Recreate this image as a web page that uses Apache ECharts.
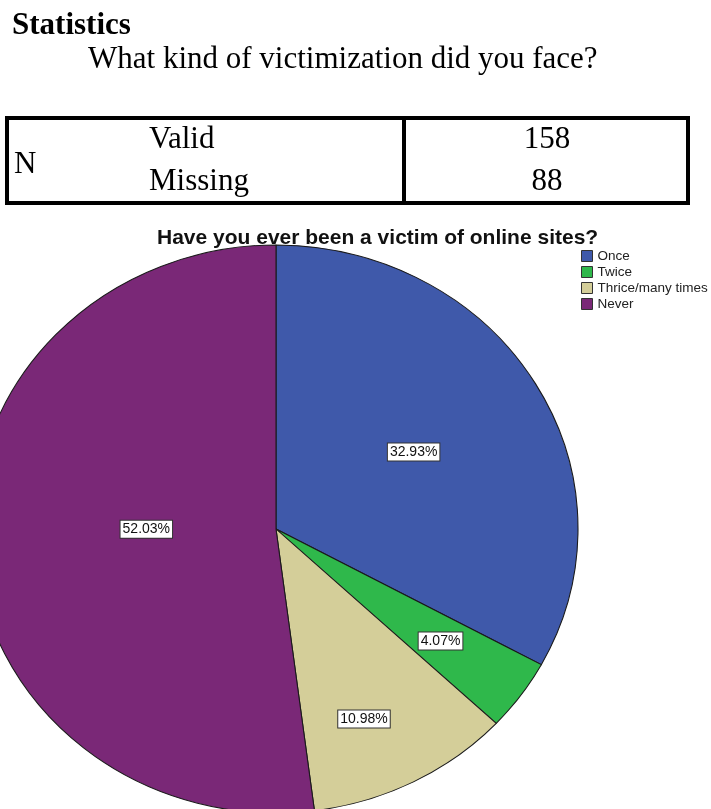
<!DOCTYPE html>
<html><head><meta charset="utf-8">
<script src="https://cdn.jsdelivr.net/npm/echarts@6/dist/echarts.min.js"></script>
<style>
html,body{margin:0;padding:0;background:#fff;}
#wrap{position:relative;width:711px;height:809px;overflow:hidden;background:#fff;}
#pie{position:absolute;left:0;top:0;width:711px;height:809px;transform-origin:276px 529px;transform:scaleX(1.0634);}
#main{position:absolute;left:0;top:0;width:711px;height:809px;}
</style></head><body>
<div id="wrap"><div id="pie"></div><div id="main"></div></div>
<script>
// ---- data ----
const categories = ['Once', 'Twice', 'Thrice/many times', 'Never'];
const counts = [81, 10, 27, 128];
const statRowLabels = ['Valid', 'Missing'];
const statRowValues = [158, 88];
const statGroup = 'N';
const heading = 'Statistics';
const question = 'What kind of victimization did you face?';
const chartTitle = 'Have you ever been a victim of online sites?';

// ---- styles ----
const sliceColors = ['#3F59AA', '#2FB84B', '#D4CE99', '#7A2877'];
const labelDx = [13, 47, 22, 15];
const labelDy = [-3, 27, 61, -9];

const total = counts.reduce((a, b) => a + b, 0);
const pieData = categories.map((c, i) => ({ name: c, value: counts[i], itemStyle: { color: sliceColors[i] } }));

// Pie drawn in SVG, stretched horizontally into the elliptical SPSS shape
const pieChart = echarts.init(document.getElementById('pie'), null, { renderer: 'svg' });
pieChart.setOption({
  animation: false,
  series: [{
    type: 'pie',
    center: [276, 529],
    radius: 284,
    startAngle: 90,
    clockwise: true,
    silent: true,
    label: { show: false },
    labelLine: { show: false },
    itemStyle: { borderColor: '#1a1a1a', borderWidth: 1 },
    data: pieData
  }]
});

const serif = '"Liberation Serif", "Times New Roman", serif';
const sans = '"Liberation Sans", Arial, sans-serif';

const main = echarts.init(document.getElementById('main'));
main.setOption({
  animation: false,
  backgroundColor: 'transparent',
  title: {
    text: chartTitle,
    left: 157, top: 228, padding: 0,
    textStyle: { fontFamily: sans, fontSize: 21, fontWeight: 'bold', color: '#111' }
  },
  legend: {
    orient: 'vertical',
    left: 581, top: 249, padding: 0,
    itemWidth: 11, itemHeight: 11, itemGap: 2,
    icon: 'rect',
    selectedMode: false,
    textStyle: { fontFamily: sans, fontSize: 13.5, color: '#222', lineHeight: 14 },
    data: categories.map((c, i) => ({ name: c, itemStyle: { color: sliceColors[i], borderColor: '#333', borderWidth: 1 } }))
  },
  graphic: [
    { type: 'text', left: 12, top: 10, style: { text: heading, font: 'bold 31px ' + serif, fill: '#000' } },
    { type: 'text', left: 88, top: 44, style: { text: question, font: '31px ' + serif, fill: '#000' } },
    { type: 'rect', shape: { x: 7, y: 118, width: 681, height: 85 }, style: { fill: 'none', stroke: '#000', lineWidth: 4 } },
    { type: 'line', shape: { x1: 404, y1: 118, x2: 404, y2: 203 }, style: { stroke: '#000', lineWidth: 4 } },
    { type: 'text', x: 14, y: 165, style: { text: statGroup, font: '31px ' + serif, fill: '#000', verticalAlign: 'middle' } },
    { type: 'text', x: 149, y: 140, style: { text: statRowLabels[0], font: '31px ' + serif, fill: '#000', verticalAlign: 'middle' } },
    { type: 'text', x: 149, y: 182, style: { text: statRowLabels[1], font: '31px ' + serif, fill: '#000', verticalAlign: 'middle' } },
    { type: 'text', x: 547, y: 140, style: { text: String(statRowValues[0]), font: '31px ' + serif, fill: '#000', align: 'center', verticalAlign: 'middle' } },
    { type: 'text', x: 547, y: 182, style: { text: String(statRowValues[1]), font: '31px ' + serif, fill: '#000', align: 'center', verticalAlign: 'middle' } }
  ],
  series: [{
    // transparent twin of the pie: carries the percentage labels and legend names
    type: 'pie',
    center: [276, 529],
    radius: 284,
    startAngle: 90,
    clockwise: true,
    silent: true,
    itemStyle: { color: 'rgba(0,0,0,0)', borderWidth: 0 },
    labelLine: { show: false },
    label: {
      show: true,
      position: 'inside',
      formatter: p => (p.value / total * 100).toFixed(2) + '%',
      fontFamily: sans, fontSize: 14, color: '#111',
      backgroundColor: '#fff', borderColor: '#333', borderWidth: 1,
      padding: [2, 2, 1, 2]
    },
    labelLayout: p => ({ dx: labelDx[p.dataIndex], dy: labelDy[p.dataIndex] }),
    data: categories.map((c, i) => ({ name: c, value: counts[i] }))
  }]
});
</script>
</body></html>
